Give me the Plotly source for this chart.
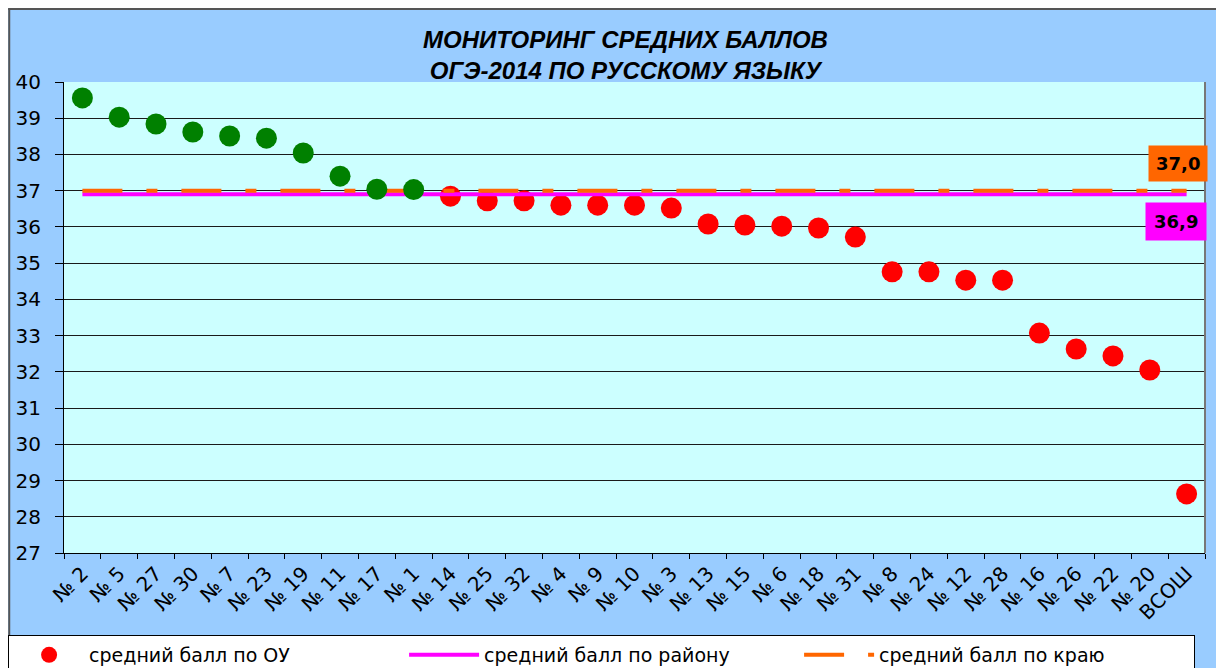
import plotly.graph_objects as go

categories = ["№ 2", "№ 5", "№ 27", "№ 30", "№ 7", "№ 23", "№ 19", "№ 11", "№ 17", "№ 1",
              "№ 14", "№ 25", "№ 32", "№ 4", "№ 9", "№ 10", "№ 3", "№ 13", "№ 15", "№ 6",
              "№ 18", "№ 31", "№ 8", "№ 24", "№ 12", "№ 28", "№ 16", "№ 26", "№ 22", "№ 20",
              "ВСОШ"]
school_avg = [39.56, 39.03, 38.84, 38.62, 38.51, 38.45, 38.04, 37.40, 37.04, 37.03,
              36.85, 36.72, 36.72, 36.60, 36.60, 36.60, 36.52, 36.08, 36.05, 36.02,
              35.97, 35.72, 34.76, 34.76, 34.53, 34.53, 33.07, 32.63, 32.44, 32.05,
              28.63]
district_avg = 36.9
region_avg = 37.0
y_ticks = list(range(27, 41))
title_text = "МОНИТОРИНГ СРЕДНИХ БАЛЛОВ<br>ОГЭ-2014 ПО РУССКОМУ ЯЗЫКУ"

green_vals = [v if v >= region_avg else None for v in school_avg]
red_vals = [v if v < region_avg else None for v in school_avg]

FONT = "DejaVu Sans"

fig = go.Figure()
fig.add_trace(go.Scatter(
    x=categories, y=red_vals, mode="markers", name="средний балл по ОУ",
    marker=dict(color="#FF0000", size=21, line=dict(width=0)),
))
fig.add_trace(go.Scatter(
    x=categories, y=[district_avg] * len(categories), mode="lines",
    name="средний балл по району",
    line=dict(color="#FF00FF", width=4),
))
fig.add_trace(go.Scatter(
    x=categories, y=[region_avg] * len(categories), mode="lines",
    name="средний балл по краю",
    line=dict(color="#FF6600", width=4, dash="40px,24px,11px,24px"),
))
fig.add_trace(go.Scatter(
    x=categories, y=green_vals, mode="markers", showlegend=False,
    marker=dict(color="#008000", size=21, line=dict(width=0)),
))

fig.add_annotation(x=categories[-1], y=region_avg, xref="x", yref="y",
                   text="<b>37,0</b>", showarrow=False, xshift=-9, yshift=27,
                   bgcolor="#FF6600", borderpad=7,
                   font=dict(family=FONT, size=18, color="black"))
fig.add_annotation(x=categories[-1], y=district_avg, xref="x", yref="y",
                   text="<b>36,9</b>", showarrow=False, xshift=-11, yshift=-27,
                   bgcolor="#FF00FF", borderpad=8,
                   font=dict(family=FONT, size=18, color="black"))

# title
fig.add_annotation(x=0.4917, y=1.0563, xref="paper", yref="paper", xanchor="center",
                   yanchor="middle", showarrow=False, text=title_text,
                   font=dict(family="Liberation Sans", size=24, color="black",
                             weight="bold", style="italic"))

# chart frame lines (top and left)
fig.add_shape(type="line", xref="paper", yref="paper", x0=-0.049, x1=1.02, y0=1.155, y1=1.155,
              line=dict(color="#555555", width=2), layer="below")
fig.add_shape(type="line", xref="paper", yref="paper", x0=-0.048, x1=-0.048, y0=-0.3, y1=1.155,
              line=dict(color="#555555", width=2), layer="below")
# right border of plot area
fig.add_shape(type="line", xref="paper", yref="paper", x0=1, x1=1, y0=0, y1=1,
              line=dict(color="#777777", width=2))

fig.update_layout(
    width=1216, height=660,
    margin=dict(l=56, r=19, t=74, b=115, autoexpand=False),
    paper_bgcolor="#99CCFF",
    plot_bgcolor="#CCFFFF",
    showlegend=True,
    legend=dict(
        orientation="h", x=-0.049, xanchor="left", y=-0.1741, yanchor="top",
        bgcolor="white", bordercolor="black", borderwidth=1,
        font=dict(family=FONT, size=19, color="black"),
        traceorder="normal", itemwidth=70,
        entrywidth=310, entrywidthmode="pixels",
    ),
    xaxis=dict(
        type="category", tickangle=-45, ticks="outside", ticklen=5, tickcolor="black",
        tickson="boundaries", showgrid=False, showline=True, linecolor="black", linewidth=1,
        tickfont=dict(family=FONT, size=20, color="black"),
        range=[-0.5, len(categories) - 0.5], automargin=False,
    ),
    yaxis=dict(
        range=[27, 40], tickvals=y_ticks, ticks="outside", ticklen=8, tickcolor="black",
        showgrid=True, gridcolor="#1a1a1a", gridwidth=1, showline=True, linecolor="black",
        linewidth=1, zeroline=False, ticklabelstandoff=10,
        tickfont=dict(family=FONT, size=20, color="black"), automargin=False,
    ),
)

fig.write_html("out.html")
